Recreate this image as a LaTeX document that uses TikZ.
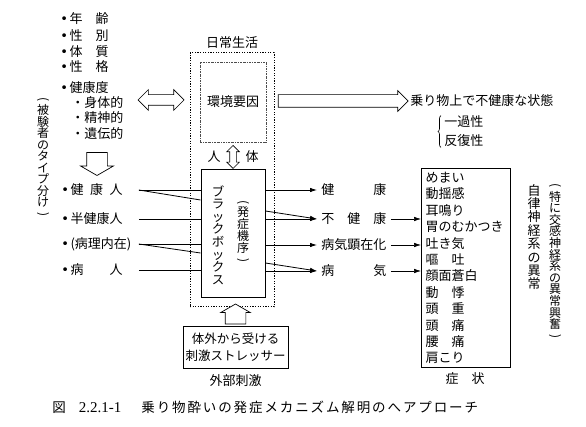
\documentclass[tikz,border=0pt]{standalone}
\usepackage{fontspec}
\usepackage{graphicx}
\setmainfont{Noto Sans CJK JP}
\newfontfamily\capfont{Liberation Serif}
\newfontfamily\symfont{DejaVu Sans}
\usetikzlibrary{shapes.arrows,arrows.meta,calc,decorations.pathreplacing}

% vertical parentheses and list bullet
\newcommand\vopen{\rotatebox[origin=c]{-90}{(}}
\newcommand\vclose{\rotatebox[origin=c]{-90}{)}}
\newcommand\blt{{\symfont •}\hspace{1.5pt}}

\begin{document}
\begin{tikzpicture}[x=1pt,y=-1pt,line width=0.8pt,
  txt/.style={inner sep=0pt,font=\fontsize{13}{15}\selectfont},
  item/.style={txt,anchor=west},
  group/.style={txt,anchor=west,text width=77pt},
  vert/.style={inner sep=0pt,align=center,font=\fontsize{12}{12.3}\selectfont},
  outc/.style={txt,anchor=west,inner xsep=4pt},
  dotbox/.style={draw,line width=1pt,dash pattern=on 1.2pt off 1.4pt},
  hollow/.style={draw,line width=0.7pt,inner xsep=0pt,fill=white}]
\tikzset{tip/.style={-{Latex[length=7pt,width=4.5pt]}}}
\useasboundingbox (0,0) rectangle (586,427);

% Subject attributes
\node[item] (age) at (60,19) {\blt\makebox[3em][s]{年\hfill 齢}};
\node[item] (sex) at (60,36) {\blt\makebox[3em][s]{性\hfill 別}};
\node[item] (physique) at (60,52) {\blt\makebox[3em][s]{体\hfill 質}};
\node[item] (character) at (60,67) {\blt\makebox[3em][s]{性\hfill 格}};
\node[item] (health) at (60,88) {\blt 健康度};
\node[item] (body) at (71,103) {・身体的};
\node[item] (mind) at (71,118) {・精神的};
\node[item] (heredity) at (71,134) {・遺伝的};
\node[vert,font=\fontsize{12}{11.5}\selectfont] (typeLbl) at (43,158)
  {\vopen\\被\\験\\者\\の\\タ\\イ\\プ\\分\\け\\\vclose};

% Hollow arrows on the left
\node[hollow,double arrow,minimum height=46,inner ysep=5pt,
  double arrow head extend=5pt] (swap) at (161,100) {};
\node[hollow,single arrow,minimum height=23,inner ysep=10pt,
  single arrow head extend=6pt,single arrow tip angle=120,rotate=-90] (down) at (97,161) {};

% Subject types
\node[group] (hk) at (61,190) {\blt\makebox[4em][s]{健\hfill 康\hfill 人}};
\node[group] (hhk) at (61,219) {\blt 半健康人};
\node[group] (byr) at (61,244) {\blt(病理内在)};
\node[group] (byn) at (61,270) {\blt\makebox[4em][s]{病\hfill 人}};

% Daily life
\node[dotbox,minimum width=84,minimum height=254] (life) at (232,180) {};
\node[txt] (lifeLbl) at (232,43) {日常生活};
\node[draw=black!70,dash pattern=on 2pt off 1pt on 0.6pt off 1pt,line width=0.7pt,
  minimum width=66,minimum height=80,txt] (env) at (233,102) {環境要因};
\node[hollow,double arrow,minimum height=23,inner ysep=3pt,
  double arrow head extend=3pt,rotate=90] (hb) at (233,157) {};
\node[txt] (hito) at (214,157) {人};
\node[txt] (tai) at (252,157) {体};

% Black box
\node[draw,line width=1pt,minimum width=64,minimum height=128] (bb) at (233,234) {};
\node[vert,font=\fontsize{12.5}{12.6}\selectfont] (bbName) at (218,235)
  {ブ\\ラ\\ッ\\ク\\ボ\\ッ\\ク\\ス};
\node[vert,font=\fontsize{12}{11}\selectfont] (bbMech) at (243,232)
  {\vopen\\発\\症\\機\\序\\\vclose};

\draw (hk.east) -- (hk.east -| bb.west);
\draw (hk.east) -- ($(hk.east -| bb.west)+(0,10)$);
\draw (hhk.east) -- (hhk.east -| bb.west);
\draw (byr.east) -- (byr.east -| bb.west);
\draw (byr.east) -- ($(byr.east -| bb.west)+(0,9)$);
\draw (byn.east) -- (byn.east -| bb.west);

% Outer stimulus
\node[draw,line width=1pt,minimum width=105,minimum height=41,align=center,
  inner sep=0pt,font=\fontsize{12.5}{17}\selectfont] (ext) at (235.5,347.5)
  {体外から受ける\\刺激ストレッサー};
\node[txt] (extLbl) at (235.5,381) {外部刺激};
\node[hollow,single arrow,minimum height=20,inner ysep=10pt,
  single arrow head extend=4.5pt,single arrow tip angle=120,rotate=90] (up) at (235.5,317) {};

% State on vehicle
\node[hollow,single arrow,minimum height=130,inner ysep=6pt,
  single arrow head extend=4pt] (out) at (340,101) {};
\node[item] (state) at (410,101) {乗り物上で不健康な状態};
\node[item] (one) at (444,122) {一過性};
\node[item] (rep) at (444,141) {反復性};
\draw[line width=0.6pt,decorate,decoration={brace,amplitude=3pt}]
  ([xshift=-3]rep.south west) -- ([xshift=-3]one.north west);

% Outcomes
\node[outc] (ok) at (317,190) {\makebox[5em][s]{健\hfill 康}};
\node[outc] (nh) at (317,219) {\makebox[5em][s]{不\hfill 健\hfill 康}};
\node[outc] (bk) at (317,245) {病気顕在化};
\node[outc] (by) at (317,271) {\makebox[5em][s]{病\hfill 気}};

\draw[tip] (ok.west -| bb.east) -- (ok.west);
\draw[tip] (nh.west -| bb.east) -- (nh.west);
\draw[tip] ($(nh.west -| bb.east)+(0,-8)$) -- (nh.west);
\draw[tip] (bk.west -| bb.east) -- (bk.west);
\draw[tip] (by.west -| bb.east) -- (by.west);
\draw[tip] ($(by.west -| bb.east)+(0,-8)$) -- (by.west);

% Symptoms
\node[draw,line width=1pt,anchor=north west,minimum width=89,minimum height=199,
  text width=81,inner xsep=4pt,inner ysep=3pt,align=left,
  font=\fontsize{13}{16.4}\selectfont] (sym) at (421,168)
  {めまい\\動揺感\\耳鳴り\\胃のむかつき\\吐き気\\嘔　吐\\顔面蒼白\\動　悸\\頭　重\\頭　痛\\腰　痛\\肩こり};
\node[txt] (symLbl) at (465,379) {症　状};

\draw[tip,line width=0.6pt] (nh.east) -- (nh.east -| sym.west);
\draw[tip,line width=0.6pt] (bk.east) -- (bk.east -| sym.west);
\draw[tip,line width=0.6pt] (by.east) -- (by.east -| sym.west);

% Autonomic nerves
\node[vert,font=\fontsize{13}{13.4}\selectfont] (ans) at (534,237)
  {自\\律\\神\\経\\系\\の\\異\\常};
\node[vert,font=\fontsize{12}{11.6}\selectfont] (ansEx) at (555,262)
  {\vopen\\特\\に\\交\\感\\神\\経\\系\\の\\異\\常\\興\\奮\\\vclose};

% Caption
\node[item,font=\fontsize{13.5}{15}\selectfont] (cap) at (52,407)
  {図\hspace{13pt}{\capfont\fontsize{15}{15}\selectfont 2.2.1-1}\hspace{20pt}{\addfontfeature{LetterSpace=14}乗り物酔いの発症メカニズム解明のへアプローチ}};
\end{tikzpicture}
\end{document}
